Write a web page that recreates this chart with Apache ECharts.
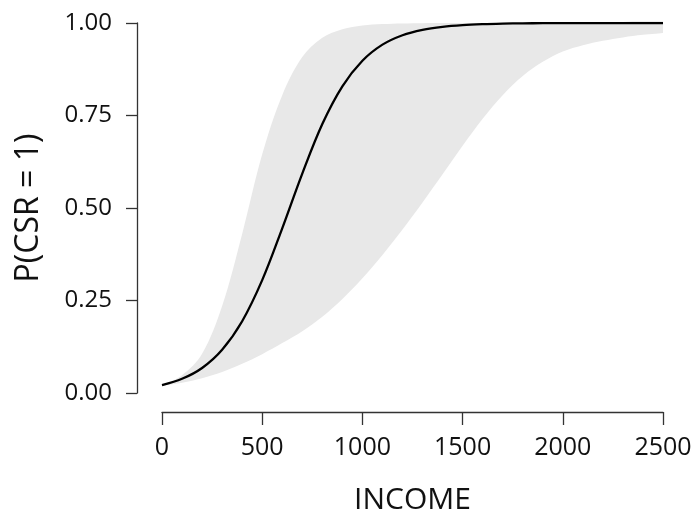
<!DOCTYPE html>
<html>
<head>
<meta charset="utf-8">
<script src="https://cdn.jsdelivr.net/npm/echarts@6/dist/echarts.min.js"></script>
<style>
html,body{margin:0;padding:0;background:#fff;}
#chart{width:693px;height:515px;}
</style>
</head>
<body>
<div id="chart"></div>
<script>
// INCOME grid (x values)
var income = [0,100,200,300,400,500,600,700,800,900,1000,1100,1200,1300,1400,1500,1600,1700,1800,1900,2000,2100,2200,2300,2400,2500];
// fitted probability P(CSR = 1)
var fitted = [0.0214,0.0384,0.0677,0.117,0.194,0.305,0.445,0.593,0.727,0.829,0.898,0.9415,0.967,0.9816,0.9898,0.9944,0.9969,0.9983,0.9991,0.9995,0.9997,0.9998,0.9999,0.9999,1.0,1.0];
// lower confidence bound
var lower = [0.020,0.028,0.040,0.057,0.079,0.105,0.135,0.167,0.206,0.254,0.310,0.373,0.442,0.515,0.591,0.668,0.741,0.805,0.857,0.895,0.923,0.940,0.952,0.961,0.968,0.973];
// upper confidence bound
var upper = [0.021,0.048,0.106,0.235,0.430,0.645,0.805,0.908,0.960,0.983,0.993,0.997,0.9988,0.9995,0.9998,1.0,1.0,1.0,1.0,1.0,1.0,1.0,1.0,1.0,1.0,1.0];
var yTickLabels = ['0.00','0.25','0.50','0.75','1.00'];
var xTickLabels = ['0','500','1000','1500','2000','2500'];

var font = '"Open Sans", "Noto Sans", "DejaVu Sans", sans-serif';
var chart = echarts.init(document.getElementById('chart'), null, {renderer:'canvas'});

var lowerPts = income.map(function(x,i){return [x, lower[i]];});
var upperPts = income.map(function(x,i){return [x, upper[i]];});
var fitPts = income.map(function(x,i){return [x, fitted[i]];});

chart.setOption({
  animation:false,
  backgroundColor:'#ffffff',
  grid:{left:162, right:30, top:23, bottom:122, containLabel:false, outerBoundsMode:'none'},
  xAxis:{
    type:'value', min:0, max:2500, interval:500, offset:19,
    name:'INCOME', nameLocation:'middle', nameGap:73,
    nameTextStyle:{fontFamily:font, fontSize:30, color:'#111'},
    axisLine:{show:true, onZero:false, lineStyle:{color:'#333', width:1.3}},
    axisTick:{show:true, length:13, lineStyle:{color:'#333', width:1.3}},
    axisLabel:{margin:23, fontFamily:font, fontSize:25, color:'#111',
      showMinLabel:true, showMaxLabel:true, alignMinLabel:'center', alignMaxLabel:'center',
      formatter:function(v){var i=Math.round(v/500);return xTickLabels[i]!==undefined?xTickLabels[i]:'';}},
    splitLine:{show:false}
  },
  yAxis:{
    type:'value', min:0, max:1, interval:0.25, offset:25,
    name:'P(CSR = 1)', nameLocation:'middle', nameGap:92, nameRotate:90,
    nameTextStyle:{fontFamily:font, fontSize:32, color:'#111'},
    axisLine:{show:true, onZero:false, lineStyle:{color:'#333', width:1.3}},
    axisTick:{show:true, length:11, lineStyle:{color:'#333', width:1.3}},
    axisLabel:{margin:25, fontFamily:font, fontSize:24, color:'#111',
      showMinLabel:true, showMaxLabel:true,
      formatter:function(v){var i=Math.round(v/0.25);return yTickLabels[i]!==undefined?yTickLabels[i]:'';}},
    splitLine:{show:false}
  },
  series:[
    {type:'line', data:upperPts, smooth:0.35, symbol:'none',
     lineStyle:{opacity:0}, areaStyle:{color:'#e8e8e8', opacity:1}, silent:true, z:1},
    {type:'line', data:lowerPts, smooth:0.35, symbol:'none',
     lineStyle:{opacity:0}, areaStyle:{color:'#ffffff', opacity:1}, silent:true, z:2},
    {type:'line', data:fitPts, smooth:0.35, symbol:'none',
     lineStyle:{color:'#000', width:2.3}, z:3}
  ]
});
</script>
</body>
</html>
